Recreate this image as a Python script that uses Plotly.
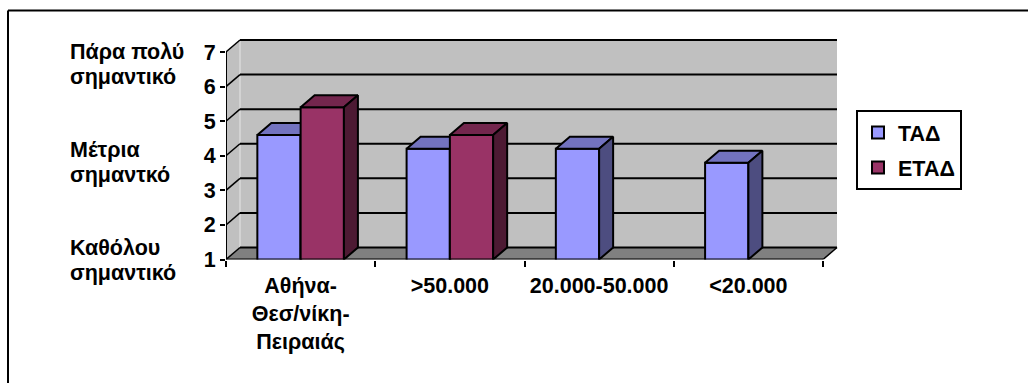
import plotly.graph_objects as go

categories = ["Αθήνα-<br>Θεσ/νίκη-<br>Πειραιάς", ">50.000", "20.000-50.000", "<20.000"]
tad = [4.6, 4.2, 4.2, 3.8]
etad = [5.4, 4.6, None, None]
y_ticks = [1, 2, 3, 4, 5, 6, 7]
scale_lines = ["Πάρα πολύ", "σημαντικό", "Μέτρια", "σημαντκό", "Καθόλου", "σημαντικό"]
scale_line_px = [52, 77, 150, 175, 248, 273]

W, H = 1028, 383
X0, X1 = 226.0, 823.0
Y1PX, Y7PX = 259.5, 52.0
DEPTH_X, DEPTH_Y = 14.0, 12.0
ux = (X1 - X0) / len(categories)
uy = (Y1PX - Y7PX) / 6
dx, dy = DEPTH_X / ux, DEPTH_Y / uy
BAR_W = 0.29
PAD = 4.0
xr = [0, len(categories) + dx + PAD / ux]
yr = [1, 7 + dy + PAD / uy]
dom_x = [X0 / W, (X1 + DEPTH_X + PAD) / W]
dom_y = [1 - Y1PX / H, 1 - (Y7PX - DEPTH_Y - PAD) / H]
FONT = "Liberation Sans"
FS = 21.5
BLACK = "#000000"
LW = 2


def box_traces(vals, offset, front, top, side, name, axes):
    tx, ty, sx, sy = [], [], [], []
    for i, v in enumerate(vals):
        if v is None:
            continue
        l = i + 0.5 + offset
        r = l + BAR_W
        tx += [l, l + dx, r + dx, r, l, None]
        ty += [v, v + dy, v + dy, v, v, None]
        sx += [r, r + dx, r + dx, r, r, None]
        sy += [1, 1 + dy, v + dy, v, 1, None]
    out = [go.Bar(x=[i + 0.5 for i in range(len(vals))], y=vals, width=BAR_W, offset=offset, name=name,
                  marker=dict(color=front, line=dict(color=BLACK, width=LW)), legendgroup=name,
                  hoverinfo="skip", **axes)]
    for xs, ys, c in ((tx, ty, top), (sx, sy, side)):
        out.append(go.Scatter(x=xs, y=ys, mode="lines", fill="toself", fillcolor=c,
                              line=dict(color=BLACK, width=LW), showlegend=False, hoverinfo="skip", **axes))
    return out


fig = go.Figure()
for t in box_traces(tad, -BAR_W, "#9999FF", "#7373BF", "#4D4D80", "ΤΑΔ", dict(xaxis="x", yaxis="y")):
    fig.add_trace(t)
for t in box_traces(etad, 0.0, "#993366", "#73264D", "#4D1A33", "ΕΤΑΔ", dict(xaxis="x2", yaxis="y2")):
    fig.add_trace(t)

n = len(categories)
# front axis lines
fig.add_trace(go.Scatter(x=[0, 0, n], y=[y_ticks[-1], y_ticks[0], y_ticks[0]], mode="lines",
                         line=dict(color=BLACK, width=LW), cliponaxis=False, showlegend=False,
                         hoverinfo="skip", xaxis="x2", yaxis="y2"))

shapes = [
    # back wall, left wall, floor
    dict(type="rect", xref="x", yref="y", x0=dx, x1=n + dx, y0=1 + dy, y1=7 + dy, fillcolor="#C0C0C0",
         line_width=0, layer="below"),
    dict(type="path", xref="x", yref="y", path=f"M0,1 L{dx},{1+dy} L{dx},{7+dy} L0,7 Z", fillcolor="#C0C0C0",
         line_width=0, layer="below"),
    dict(type="path", xref="x", yref="y", path=f"M0,1 L{n},1 L{n+dx},{1+dy} L{dx},{1+dy} Z", fillcolor="#808080",
         line_width=0, layer="below"),
    dict(type="line", xref="x", yref="y", x0=dx, x1=dx, y0=1 + dy, y1=7 + dy, line=dict(color="#E6E6E6", width=1),
         layer="below"),
    dict(type="line", xref="x", yref="y", x0=n, x1=n + dx, y0=1, y1=1 + dy, line=dict(color=BLACK, width=1.5),
         layer="below"),
]
for v in y_ticks:
    shapes.append(dict(type="line", xref="x", yref="y", x0=dx, x1=n + dx, y0=v + dy, y1=v + dy,
                       line=dict(color=BLACK, width=LW), layer="below"))
    shapes.append(dict(type="line", xref="x", yref="y", x0=0, x1=dx, y0=v, y1=v + dy,
                       line=dict(color=BLACK, width=1.5), layer="below"))
# page frame
shapes.append(dict(type="line", xref="paper", yref="paper", x0=8 / W, x1=1, y0=1 - 10.5 / H, y1=1 - 10.5 / H,
                   line=dict(color=BLACK, width=2)))
shapes.append(dict(type="line", xref="paper", yref="paper", x0=8 / W, x1=8 / W, y0=0, y1=1 - 10.5 / H,
                   line=dict(color=BLACK, width=2)))

annotations = [
    dict(text=txt, x=68 / W, y=1 - py / H, xref="paper", yref="paper", xanchor="left", yanchor="middle",
         align="left", showarrow=False, font=dict(family=FONT, size=FS, color=BLACK, weight="bold"))
    for txt, py in zip(scale_lines, scale_line_px)
]

fig.update_layout(
    width=W, height=H, margin=dict(l=0, r=0, t=0, b=0), paper_bgcolor="white", plot_bgcolor="rgba(0,0,0,0)",
    barmode="overlay", shapes=shapes, annotations=annotations,
    font=dict(family=FONT, size=FS, color=BLACK),
    xaxis=dict(domain=dom_x, range=xr, tickvals=[i + 0.5 for i in range(n)], ticktext=categories, ticks="",
               showgrid=False, zeroline=False, showline=False, ticklabelstandoff=11, automargin=False,
               tickfont=dict(family=FONT, size=FS, weight="bold"),
               minor=dict(tickvals=list(range(n + 1)), ticks="outside", ticklen=6, tickwidth=1.5,
                          tickcolor=BLACK, showgrid=False)),
    yaxis=dict(domain=dom_y, range=yr, tickvals=y_ticks, ticks="outside", ticklen=5, tickwidth=1.5, tickcolor=BLACK,
               showgrid=False, zeroline=False, showline=False, automargin=False,
               tickfont=dict(family=FONT, size=FS, weight="bold")),
    xaxis2=dict(domain=dom_x, range=xr, overlaying="x", visible=False),
    yaxis2=dict(domain=dom_y, range=yr, overlaying="y", visible=False),
    legend=dict(x=856 / W, y=1 - 110 / H, xanchor="left", yanchor="top", bgcolor="white", bordercolor=BLACK,
                borderwidth=2, traceorder="grouped", tracegroupgap=4, itemwidth=30,
                entrywidthmode="pixels", entrywidth=52,
                font=dict(family=FONT, size=FS, weight="bold", color=BLACK)),
    showlegend=True,
)

fig.write_html("out.html", post_script="document.body.style.margin='0';", config=dict(displayModeBar=False))
